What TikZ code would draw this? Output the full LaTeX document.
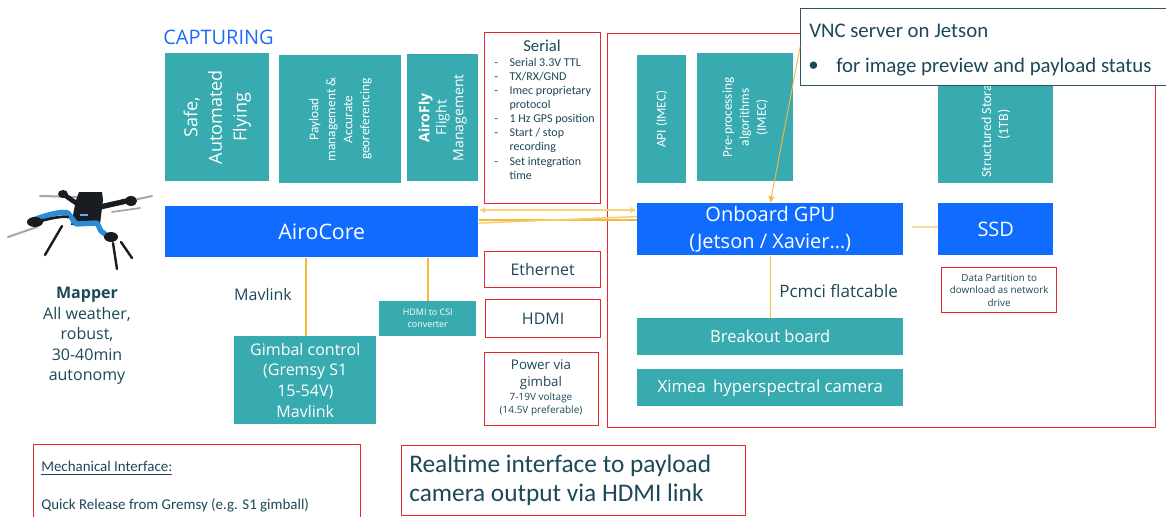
\documentclass[tikz,border=0pt]{standalone}
\usepackage{fontspec}
\setmainfont{Open Sans}
\newfontfamily\calfont{Carlito}
\usetikzlibrary{arrows.meta,calc}

\definecolor{tealc}{RGB}{56,171,177}
\definecolor{bluec}{RGB}{16,108,255}
\definecolor{redc}{RGB}{232,40,42}
\definecolor{linkc}{RGB}{246,186,60}
\definecolor{linklight}{RGB}{250,218,150}
\definecolor{textc}{RGB}{28,72,88}
\definecolor{capblue}{RGB}{28,108,245}
\definecolor{vncc}{RGB}{45,85,100}
\definecolor{dronebody}{RGB}{25,28,32}
\definecolor{dronearm}{RGB}{40,140,215}

\begin{document}
\begin{tikzpicture}[x=0.75pt,y=-0.75pt,
  sz/.style 2 args={minimum width=#1*0.75pt, minimum height=#2*0.75pt},
  box/.style={anchor=north west, inner sep=0pt, align=center},
  tealbox/.style={box, fill=tealc, text=white},
  bluebox/.style={box, fill=bluec, text=white},
  redbox/.style={box, draw=redc, line width=1pt, fill=white, text=textc},
  lbl/.style={text=textc, inner sep=0pt, align=center},
  vlbl/.style={text=white, inner sep=0pt, align=center, rotate=90},
  link/.style={draw=linkc, line width=1.1pt},
]
\useasboundingbox (0,0) rectangle (1166,517);

% ---------- capturing column ----------
\node[anchor=west, inner sep=0pt, text=capblue, font=\fontsize{15}{18}\selectfont] (capt) at (163,37) {CAPTURING};

\node[tealbox, sz={104}{128}] (safe) at (165,53) {};
\node[vlbl, font=\fontsize{13.5}{18.5}\selectfont] (safe-t) at (safe.center) {Safe,\\Automated\\Flying};

\node[tealbox, sz={122}{128}] (payload) at (279,55) {};
\node[vlbl, font=\calfont\fontsize{10}{12.75}\selectfont] (payload-t) at (payload.center) {Payload\\management \&\\Accurate\\georeferencing};

\node[tealbox, sz={71}{127}] (airofly) at (407,54) {};
\node[vlbl, font=\fontsize{10.5}{12.75}\selectfont] (airofly-t) at (airofly.center) {\textbf{AiroFly}\\Flight\\Management};

% ---------- serial interface ----------
\node[redbox, sz={116}{171}] (serial) at (484,32) {};
\node[lbl, font=\calfont\fontsize{12.5}{14}\selectfont] (serial-t) at (542,46) {Serial};
\node[anchor=north west, inner sep=0pt, text=textc, font=\calfont\fontsize{9}{10.6}\selectfont] (serial-list) at (494,56)
  {\begin{tabular}{@{}p{11.5pt}@{}l@{}}
   -&Serial 3.3V TTL\\
   -&TX/RX/GND\\
   -&Imec proprietary\\
    &protocol\\
   -&1 Hz GPS position\\
   -&Start / stop\\
    &recording\\
   -&Set integration\\
    &time
   \end{tabular}};

% ---------- payload frame ----------
\node[box, draw=redc, line width=1pt, sz={548}{394}] (payloadframe) at (607,33) {};

\node[tealbox, sz={49}{128}] (api) at (637,55) {};
\node[vlbl, font=\calfont\fontsize{10}{12.75}\selectfont] (api-t) at (api.center) {API (IMEC)};

\node[tealbox, sz={96}{128}] (pre) at (697,53) {};
\node[vlbl, font=\calfont\fontsize{10}{12.75}\selectfont] (pre-t) at (pre.center) {Pre-processing\\algorithms\\(IMEC)};

\node[tealbox, sz={115}{128}] (storage) at (938,55) {};
\node[vlbl, font=\calfont\fontsize{10.5}{12.75}\selectfont] (storage-t) at ([yshift=-4pt]storage.center) {Structured Storage\\(1TB)};

% VNC callout lies over the frame and the storage block
\node[box, fill=white, draw=vncc, line width=1pt, sz={368}{77}] (vnc) at (800,8) {};
\node[anchor=west, lbl, font=\calfont\fontsize{15.6}{17}\selectfont] (vnc-t1) at (809,31) {VNC server on Jetson};
\node[anchor=west, lbl, font=\calfont\fontsize{15.6}{17}\selectfont] (vnc-b) at (808,67) {\textbullet};
\node[anchor=west, lbl, font=\calfont\fontsize{15.6}{17}\selectfont] (vnc-t2) at (836,67) {for image preview and payload status};

\node[bluebox, sz={266}{52}, font=\fontsize{15}{20}\selectfont] (gpu) at (637,203) {Onboard GPU\\(Jetson / Xavier\ldots)};
\node[bluebox, sz={115}{52}, font=\fontsize{15}{18}\selectfont] (ssd) at (938,203) {SSD};
\node[redbox, sz={115}{45}, font=\fontsize{7.4}{9.4}\selectfont] (data) at (941,267) {Data Partition to\\download as network\\drive};

\node[tealbox, sz={266}{37}, font=\fontsize{12.4}{14}\selectfont] (breakout) at (637,318) {Breakout board};
\node[tealbox, sz={266}{37}, font=\fontsize{12.6}{14}\selectfont] (ximea) at (637,369) {Ximea\, hyperspectral camera};
\node[lbl, anchor=west, font=\fontsize{12.8}{14}\selectfont] (pcmci) at (779,291) {Pcmci flatcable};

% ---------- interfaces ----------
\node[redbox, sz={116}{36}, font=\fontsize{12}{14}\selectfont] (eth) at (484,251) {Ethernet};
\node[redbox, sz={115}{38}, font=\fontsize{12}{14}\selectfont] (hdmi) at (485,299) {HDMI};
\node[redbox, sz={114}{73}] (power) at (484,352) {};
\node[lbl, font=\fontsize{10}{12.6}\selectfont] (power-t1) at (541,375) {Power via\\gimbal};
\node[lbl, font=\fontsize{7.5}{9.6}\selectfont] (power-t2) at (541,404) {7-19V voltage\\(14.5V preferable)};

% ---------- drone side ----------
\node[bluebox, sz={313}{51}, font=\fontsize{16}{18}\selectfont] (airocore) at (165,206) {AiroCore};
\node[lbl, font=\fontsize{12}{14}\selectfont] (mavlink) at (263,294) {Mavlink};
\node[tealbox, sz={142}{88}, font=\fontsize{12}{15.6}\selectfont] (gimbal) at (234,336) {Gimbal control\\(Gremsy S1\\15-54V)\\Mavlink};
\node[tealbox, sz={97}{35}, font=\fontsize{6.7}{9}\selectfont] (csi) at (379,301) {HDMI to CSI\\converter};

\node[lbl, font=\fontsize{12}{15.4}\selectfont] (mapper) at (87,336) {\textbf{Mapper}\\All weather,\\robust,\\30-40min\\autonomy};

% ---------- bottom notes ----------
\node[redbox, sz={327}{80}] (mech) at (33,444) {};
\node[lbl, anchor=west, font=\calfont\fontsize{11.2}{12}\selectfont] (mech-t1) at (41,468) {\underline{Mechanical Interface:}};
\node[lbl, anchor=west, font=\calfont\fontsize{11.2}{12}\selectfont] (mech-t2) at (41,505) {Quick Release from Gremsy (e.g. S1 gimball)};

\node[redbox, sz={344}{70}] (realtime) at (401,445) {};
\node[lbl, anchor=west, align=left, font=\calfont\fontsize{19}{22}\selectfont] (realtime-t) at (409,480) {Realtime interface to payload\\camera output via HDMI link};

% ---------- connectors ----------
\draw[link, draw=linklight!70!linkc, {Latex[length=5pt,width=5pt]}-{Latex[length=5pt,width=5pt]}]
  ([yshift=-3pt]airocore.north east) -- ([yshift=-3pt]airocore.north east -| gpu.west);
\draw[link] ([yshift=9pt]airocore.east) -- ([yshift=9pt]airocore.east -| gpu.west);
\draw[link, draw=linklight!60!linkc] ([yshift=6.5pt]airocore.east) -- ([yshift=9.5pt]gpu.west);
\draw[link] ([xshift=0.375pt]gimbal.north |- airocore.south) -- ([xshift=0.375pt]gimbal.north);
\draw[link] (csi.north |- airocore.south) -- (csi.north);
\draw[link] (gpu.south) -- (breakout.north);
\draw[link, draw=linklight, line width=1.6pt] ([xshift=6pt,yshift=2pt]gpu.east) -- ([yshift=2pt]ssd.west);
\draw[link, line width=0.7pt, -{Latex[length=5pt,width=5pt]}] (vnc.west) -- (gpu.north);

% ---------- drone ----------
\begin{scope}[line cap=round, line join=round]
  % propellers
  \draw[gray!70, line width=1.5pt] (40,196) -- (80,197);
  \draw[gray!70, line width=1.5pt] (106,206) -- (152,196);
  \draw[gray!70, line width=1.5pt] (8,237) -- (37,227);
  \draw[gray!70, line width=1.3pt] (112,212) -- (140,208);
  % rear arms and motors
  \draw[dronebody, line width=3.5pt] (79,205) -- (63,194);
  \draw[dronebody, line width=4pt] (100,207) -- (131,200);
  \fill[dronebody] (63,194) ellipse (5 and 4);
  \fill[dronebody] (131,201) ellipse (6 and 5);
  % legs
  \draw[dronebody, line width=1.8pt] (62,226) -- (45,255);
  \draw[dronebody, line width=1.8pt] (113,243) -- (117,269);
  \draw[dronebody, line width=1.8pt] (121,242) -- (132,258);
  % body
  \fill[dronebody] (79,192) -- (102,192) -- (103,200) -- (100,224) -- (71,225) -- (76,200) -- cycle;
  % front arms with blue trim
  \draw[dronearm, line width=4pt] (33,220) .. controls (50,214) and (62,211) .. (68,213) -- (76,224) -- (97,223) -- (101,231) -- (110,238);
  \draw[dronebody, line width=2pt] (34,223) .. controls (50,218) and (62,216) .. (68,217);
  \fill[dronebody] (35,222) ellipse (8 and 5);
  \fill[dronebody] (111,237) ellipse (7 and 5);
  \fill[dronearm!70!white] (80,214) rectangle (88,216);
\end{scope}
\end{tikzpicture}
\end{document}
